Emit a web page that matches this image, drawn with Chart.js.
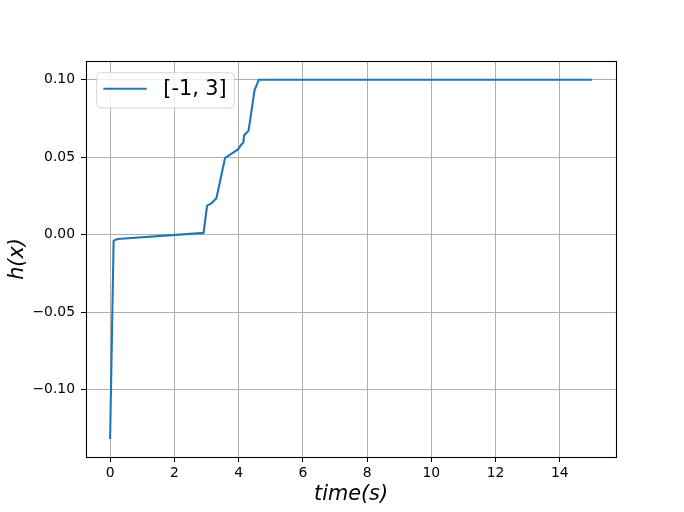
<!DOCTYPE html>
<html>
<head>
<meta charset="utf-8">
<script src="https://cdn.jsdelivr.net/npm/chart.js@4"></script>
<style>
  html, body { margin: 0; padding: 0; background: #fff; }
  #wrap { width: 684px; height: 512px; }
</style>
</head>
<body>
<div id="wrap"><canvas id="hChart" width="684" height="512"></canvas></div>
<script>
// values
const timeS = [0, 0.11, 0.23, 2.91, 3.02, 3.15, 3.31, 3.58, 3.69, 3.98, 4.08, 4.15, 4.17, 4.31, 4.50, 4.56, 4.63, 15];
const hX = [-0.132, -0.0039, -0.0028, 0.0011, 0.0187, 0.0202, 0.0235, 0.0496, 0.051, 0.055, 0.058, 0.0595, 0.064, 0.067, 0.0935, 0.0963, 0.1, 0.1];
const seriesLabel = '[-1, 3]';
const xTicks = [0, 2, 4, 6, 8, 10, 12, 14];
const yTicks = [-0.10, -0.05, 0.00, 0.05, 0.10];

const FONT = "'DejaVu Sans', sans-serif";
const LINE_BLUE = '#1f77b4';

// black frame round the plot area, like matplotlib spines
const framePlugin = {
    id: 'frame',
    afterDraw(chart) {
        const a = chart.chartArea;
        const ctx = chart.ctx;
        ctx.save();
        ctx.strokeStyle = '#000';
        ctx.lineWidth = 1.1;
        ctx.strokeRect(Math.round(a.left) + 0.5, Math.round(a.top) + 0.5,
            Math.round(a.right - a.left), Math.round(a.bottom - a.top));
        ctx.restore();
    }
};

// matplotlib-looking legend box in the upper left corner
const legendBoxPlugin = {
    id: 'legendBox',
    afterDraw(chart) {
        const ctx = chart.ctx;
        const a = chart.chartArea;
        const ds = chart.data.datasets[0];
        const x = a.left + 10.7, y = a.top + 11.7, w = 137.6, h = 35.3;
        ctx.save();
        ctx.beginPath();
        ctx.roundRect(x, y, w, h, 4);
        ctx.fillStyle = 'rgba(255,255,255,0.8)';
        ctx.fill();
        ctx.strokeStyle = 'rgba(204,204,204,0.8)';
        ctx.lineWidth = 1;
        ctx.stroke();

        ctx.beginPath();
        ctx.moveTo(x + 6.6, y + 16);
        ctx.lineTo(x + 50, y + 16);
        ctx.strokeStyle = ds.borderColor;
        ctx.lineWidth = ds.borderWidth;
        ctx.stroke();

        ctx.fillStyle = '#000';
        ctx.font = '20.8px ' + FONT;
        ctx.textBaseline = 'middle';
        ctx.fillText(ds.label, x + 66.6, y + 17);
        ctx.restore();
    }
};

const ctx = document.getElementById('hChart').getContext('2d');
const chart = new Chart(ctx, {
    type: 'line',
    data: {
        datasets: [{
            label: seriesLabel,
            data: timeS.map((t, i) => ({ x: t, y: hX[i] })),
            borderColor: LINE_BLUE,
            borderWidth: 2.1,
            pointRadius: 0,
            tension: 0,
            fill: false
        }]
    },
    options: {
        responsive: false,
        animation: false,
        layout: { padding: { top: 61, right: 68, left: 0, bottom: 0 } },
        plugins: {
            legend: { display: false },
            tooltip: { enabled: false }
        },
        scales: {
            x: {
                type: 'linear',
                min: -0.75,
                max: 15.75,
                afterBuildTicks: scale => { scale.ticks = xTicks.map(v => ({ value: v })); },
                afterFit: scale => { scale.height = 55; },
                grid: { color: '#b0b0b0', lineWidth: 1, tickColor: '#000', tickLength: 5, tickWidth: 1 },
                border: { display: false },
                ticks: {
                    autoSkip: false,
                    maxRotation: 0,
                    padding: 3,
                    color: '#000',
                    font: { family: FONT, size: 13.9 },
                    callback: v => String(v)
                },
                title: {
                    display: true,
                    text: 'time(s)',
                    color: '#000',
                    padding: { top: 0, bottom: 5 },
                    font: { family: FONT, size: 20.8, style: 'italic' }
                }
            },
            y: {
                type: 'linear',
                min: -0.1436,
                max: 0.1121,
                afterBuildTicks: scale => { scale.ticks = yTicks.map(v => ({ value: v })); },
                afterFit: scale => { scale.width = 86; },
                grid: { color: '#b0b0b0', lineWidth: 1, tickColor: '#000', tickLength: 5, tickWidth: 1 },
                border: { display: false },
                ticks: {
                    padding: 6,
                    color: '#000',
                    font: { family: FONT, size: 13.9 },
                    callback: v => v.toFixed(2).replace('-', '\u2212')
                },
                title: {
                    display: true,
                    text: 'h(x)',
                    color: '#000',
                    padding: { top: 5, bottom: 0 },
                    font: { family: FONT, size: 20.8, style: 'italic' }
                }
            }
        }
    },
    plugins: [framePlugin, legendBoxPlugin]
});
</script>
</body>
</html>
